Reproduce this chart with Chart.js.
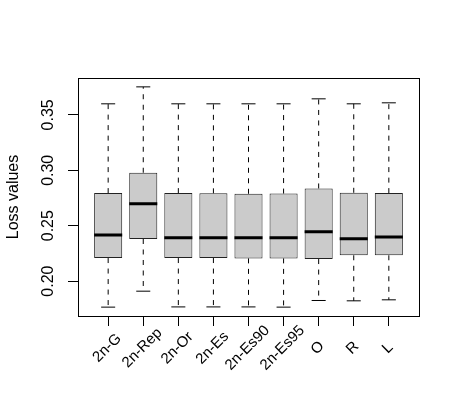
<!DOCTYPE html>
<html>
<head>
<meta charset="utf-8">
<script src="https://cdn.jsdelivr.net/npm/chart.js@4/dist/chart.umd.min.js"></script>
<style>
  html, body { margin: 0; padding: 0; background: #fff; }
</style>
</head>
<body>
<canvas id="lossChart" width="460" height="414"></canvas>
<script>
// boxplot stats
const methods = ['2n-G', '2n-Rep', '2n-Or', '2n-Es', '2n-Es90', '2n-Es95', 'O', 'R', 'L'];
const lowerWhisker = [0.1765, 0.1909, 0.1767, 0.1767, 0.1767, 0.1765, 0.1825, 0.1822, 0.1831];
const q1 = [0.2208, 0.2380, 0.2208, 0.2208, 0.2205, 0.2205, 0.2199, 0.2233, 0.2233];
const medians = [0.2416, 0.2697, 0.2392, 0.2392, 0.2392, 0.2392, 0.2446, 0.2383, 0.2398];
const q3 = [0.2794, 0.2978, 0.2794, 0.2792, 0.2788, 0.2790, 0.2836, 0.2797, 0.2794];
const upperWhisker = [0.3600, 0.3753, 0.3600, 0.3600, 0.3600, 0.3600, 0.3645, 0.3600, 0.3609];
const yTicks = [0.20, 0.25, 0.30, 0.35];

const FONT = '"Liberation Sans", Arial, Helvetica, sans-serif';
const STAPLE = 0.2;   // half width of whisker caps (x units)
const BOXHALF = 0.4;  // half width of median line

// line segments separated by null points
function segments(fn) {
    const pts = [];
    methods.forEach((m, i) => {
        fn(i).forEach(seg => {
            pts.push(seg[0], seg[1], { x: seg[0].x, y: null });
        });
    });
    return pts;
}

const whiskerData = segments(i => [
    [{ x: i + 1, y: q3[i] }, { x: i + 1, y: upperWhisker[i] }],
    [{ x: i + 1, y: q1[i] }, { x: i + 1, y: lowerWhisker[i] }]
]);
const stapleData = segments(i => [
    [{ x: i + 1 - STAPLE, y: upperWhisker[i] }, { x: i + 1 + STAPLE, y: upperWhisker[i] }],
    [{ x: i + 1 - STAPLE, y: lowerWhisker[i] }, { x: i + 1 + STAPLE, y: lowerWhisker[i] }]
]);
const medianData = segments(i => [
    [{ x: i + 1 - BOXHALF, y: medians[i] }, { x: i + 1 + BOXHALF, y: medians[i] }]
]);

// frame + R style labels
const rStyle = {
    id: 'rStyle',
    afterDraw(chart) {
        const ctx = chart.ctx;
        const a = chart.chartArea;
        const xs = chart.scales.x, ys = chart.scales.y;
        ctx.save();
        ctx.strokeStyle = '#000';
        ctx.lineWidth = 1;
        ctx.strokeRect(Math.round(a.left) + 0.5, Math.round(a.top) + 0.5,
            Math.round(a.right - a.left), Math.round(a.bottom - a.top));

        ctx.fillStyle = '#000';
        ctx.font = '16px ' + FONT;
        ctx.textAlign = 'center';
        ctx.textBaseline = 'middle';
        yTicks.forEach(v => {
            ctx.save();
            ctx.translate(49, ys.getPixelForValue(v));
            ctx.rotate(-Math.PI / 2);
            ctx.fillText(v.toFixed(2), 0, 0);
            ctx.restore();
        });

        ctx.font = '15px ' + FONT;
        methods.forEach((m, i) => {
            ctx.save();
            ctx.translate(xs.getPixelForValue(i + 1) - 1, 348);
            ctx.rotate(-Math.PI / 4);
            ctx.fillText(m, 0, 0);
            ctx.restore();
        });
        ctx.restore();
    }
};

new Chart(document.getElementById('lossChart'), {
    type: 'bar',
    data: {
        datasets: [
            {
                type: 'line',
                data: medianData,
                borderColor: '#000',
                borderWidth: 3,
                borderCapStyle: 'butt',
                pointRadius: 0,
                spanGaps: false,
                order: 0
            },
            {
                type: 'bar',
                data: methods.map((m, i) => ({ x: i + 1, y: [q1[i], q3[i]] })),
                backgroundColor: '#cbcbcb',
                borderColor: '#222',
                borderWidth: 1,
                borderSkipped: false,
                barPercentage: 0.8,
                categoryPercentage: 1,
                order: 1
            },
            {
                type: 'line',
                data: whiskerData,
                borderColor: '#000',
                borderWidth: 1,
                borderDash: [5, 5.5],
                pointRadius: 0,
                spanGaps: false,
                order: 2
            },
            {
                type: 'line',
                data: stapleData,
                borderColor: '#000',
                borderWidth: 1,
                pointRadius: 0,
                spanGaps: false,
                order: 2
            }
        ]
    },
    options: {
        responsive: false,
        animation: false,
        devicePixelRatio: 1,
        layout: { padding: { left: 0, top: 78, right: 41, bottom: 0 } },
        plugins: {
            legend: { display: false },
            tooltip: { enabled: false }
        },
        scales: {
            x: {
                type: 'linear',
                min: 0.14,
                max: 9.86,
                offset: false,
                afterBuildTicks: s => { s.ticks = methods.map((m, i) => ({ value: i + 1 })); },
                afterFit: s => { s.height = 98; },
                ticks: { display: false },
                grid: { offset: false, drawOnChartArea: false, drawTicks: true, tickLength: 10, color: '#000' },
                border: { display: false }
            },
            y: {
                min: 0.1685,
                max: 0.3833,
                afterBuildTicks: s => { s.ticks = yTicks.map(v => ({ value: v })); },
                afterFit: s => { s.width = 78; },
                ticks: { display: false },
                grid: { drawOnChartArea: false, drawTicks: true, tickLength: 10, color: '#000' },
                border: { display: false },
                title: {
                    display: true,
                    text: 'Loss values',
                    color: '#000',
                    font: { family: FONT, size: 16 },
                    padding: { top: 4, bottom: 0 }
                }
            }
        }
    },
    plugins: [rStyle]
});
</script>
</body>
</html>
